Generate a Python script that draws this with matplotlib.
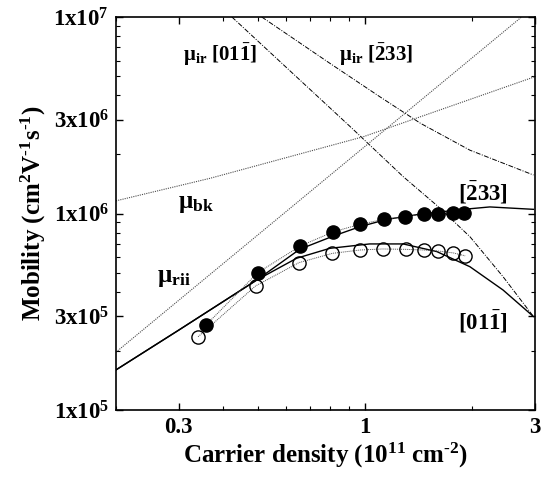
import numpy as np
import matplotlib
matplotlib.use("Agg")
import matplotlib.pyplot as plt
from matplotlib.ticker import FixedLocator, NullFormatter

plt.rcParams['font.family'] = ['Liberation Serif', 'DejaVu Serif']
plt.rcParams['font.weight'] = 'bold'
plt.rcParams['mathtext.fontset'] = 'custom'
plt.rcParams['mathtext.rm'] = 'Liberation Serif:bold'
plt.rcParams['mathtext.bf'] = 'Liberation Serif:bold'
plt.rcParams['mathtext.it'] = 'Liberation Serif:bold'

# measured points, [-233] direction (filled) and [01-1] direction (open)
n_233 = [0.358, 0.50, 0.659, 0.815, 0.968, 1.127, 1.297, 1.46, 1.607, 1.77, 1.90]
mu_233 = [2.71e5, 5.0e5, 6.84e5, 8.07e5, 8.81e5, 9.33e5, 9.64e5, 9.91e5, 1.0e6, 1.01e6, 1.01e6]
n_011 = [0.340, 0.493, 0.652, 0.81, 0.97, 1.12, 1.30, 1.46, 1.607, 1.77, 1.91]
mu_011 = [2.36e5, 4.28e5, 5.62e5, 6.27e5, 6.52e5, 6.6e5, 6.57e5, 6.52e5, 6.44e5, 6.3e5, 6.09e5]

# calculated total mobility curves
fit_n_233 = [0.2, 0.3, 0.497, 0.656, 0.815, 0.968, 1.15, 1.43, 1.89, 2.24, 2.97]
fit_mu_233 = [1.60e5, 2.55e5, 4.59e5, 6.58e5, 7.68e5, 8.57e5, 9.33e5, 9.93e5, 1.05e6, 1.08e6, 1.05e6]
fit_n_011 = [0.2, 0.3, 0.497, 0.643, 0.797, 1.03, 1.28, 1.59, 1.97, 2.44, 2.97]
fit_mu_011 = [1.60e5, 2.55e5, 4.59e5, 5.92e5, 6.65e5, 7.0e5, 7.0e5, 6.40e5, 5.36e5, 4.08e5, 2.99e5]

# scattering components
ir011_n = [0.423, 0.918, 1.28, 1.59, 1.97, 2.44, 2.97]
ir011_mu = [1.0e7, 2.72e6, 1.54e6, 1.10e6, 7.62e5, 4.77e5, 2.99e5]
ir233_n = [0.513, 0.797, 1.10, 1.43, 1.97, 2.97]
ir233_mu = [1.0e7, 5.81e6, 3.93e6, 2.88e6, 2.10e6, 1.57e6]
bk_n = [0.2, 0.367, 0.99, 3.0]
bk_mu = [1.16e6, 1.51e6, 2.46e6, 4.97e6]
rii_n = [0.2, 2.75]
rii_mu = [1.97e5, 1.0e7]

fig = plt.figure(figsize=(5.48, 4.78), dpi=100)
ax = fig.add_axes([116/548, 68/478, 419/548, 393/478])
ax.set_xscale('log')
ax.set_yscale('log')

dashdot = (0, (5, 1.5, 1, 1.5))
ax.plot(ir011_n, ir011_mu, color='black', lw=0.7, ls=dashdot)
ax.plot(ir233_n, ir233_mu, color='black', lw=0.7, ls=dashdot)
ax.plot(bk_n, bk_mu, color='0.3', lw=0.8, ls=(0, (1, 1)))
ax.plot(rii_n, rii_mu, color='0.3', lw=0.8, ls=(0, (1, 1)))

ax.plot(fit_n_233, fit_mu_233, color='black', lw=1.0)
ax.plot(fit_n_011, fit_mu_011, color='black', lw=1.0)

ax.plot(n_233, mu_233, color='0.3', lw=0.7, ls=(0, (1, 1)))
ax.plot(n_011, mu_011, color='0.3', lw=0.7, ls=(0, (1, 1)))
ax.plot(n_233, mu_233, 'o', ms=9.5, mfc='black', mec='black', ls='none', zorder=5)
ax.plot(n_011, mu_011, 'o', ms=9.5, mfc='none', mec='black', mew=1.0, ls='none', zorder=5)

ax.set_xlim(0.2, 3)
ax.set_ylim(1e5, 1e7)

ax.xaxis.set_major_locator(FixedLocator([0.3, 1, 3]))
ax.set_xticklabels(['0.3', '1', '3'], fontsize=16.5, fontweight='bold')
ax.xaxis.set_minor_locator(FixedLocator([0.2, 0.4, 0.5, 0.6, 0.7, 0.8, 0.9, 2]))
ax.xaxis.set_minor_formatter(NullFormatter())

ax.yaxis.set_major_locator(FixedLocator([1e5, 3e5, 1e6, 3e6, 1e7]))
ax.set_yticklabels([r'1x10$^{5}$', r'3x10$^{5}$', r'1x10$^{6}$', r'3x10$^{6}$', r'1x10$^{7}$'],
                   fontsize=16.5, fontweight='bold')
ymin = [k * 10**e for e in (5, 6) for k in (2, 4, 5, 6, 7, 8, 9)]
ax.yaxis.set_minor_locator(FixedLocator(ymin))
ax.yaxis.set_minor_formatter(NullFormatter())

ax.tick_params(which='both', direction='in', top=True, right=True)
ax.tick_params(which='major', length=5, width=1.0, pad=5)
ax.tick_params(which='minor', length=3, width=0.8)
for s in ax.spines.values():
    s.set_linewidth(1.2)

ax.set_xlabel(r'Carrier density (10$^{11}$ cm$^{\text{-}2}$)', fontsize=18, fontweight='bold', labelpad=2)
ax.set_ylabel(r'Mobility (cm$^{2}$V$^{\text{-}1}$s$^{\text{-}1}$)', fontsize=18, fontweight='bold', labelpad=4)

ax.text(0.308, 6.41e6, r'μ$_{ir}$ [01$\bar{1}$]', fontsize=15, fontweight='bold', va='center')
ax.text(0.845, 6.41e6, r'μ$_{ir}$ [$\bar{2}$33]', fontsize=15, fontweight='bold', va='center')
ax.text(0.299, 1.13e6, r'μ$_{bk}$', fontsize=18, fontweight='bold', va='center')
ax.text(0.261, 4.75e5, r'μ$_{rii}$', fontsize=18, fontweight='bold', va='center')
ax.text(1.82, 1.27e6, r'[$\bar{2}$33]', fontsize=16.5, fontweight='bold', va='center')
ax.text(1.82, 2.81e5, r'[01$\bar{1}$]', fontsize=16.5, fontweight='bold', va='center')

fig.savefig('out.png', dpi=100)
